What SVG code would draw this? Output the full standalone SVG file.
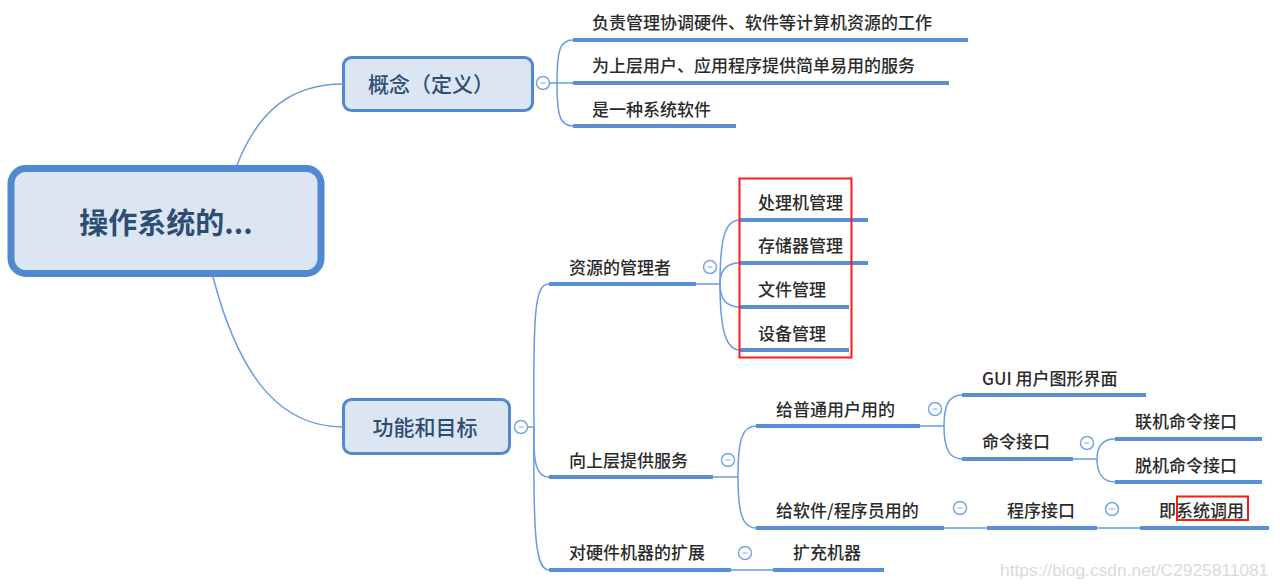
<svg xmlns="http://www.w3.org/2000/svg" width="1280" height="588" viewBox="0 0 1280 588">
<defs>
<style>
.box{fill:#dce6f2;stroke:#5089d0;}
.t{font-family:"Noto Sans CJK SC","Liberation Sans",sans-serif;fill:#2b2b2b;font-size:17px;font-weight:500;}
.bt{font-family:"Noto Sans CJK SC","Liberation Sans",sans-serif;fill:#2e4d73;font-weight:500;}
.rt{font-weight:bold;font-size:29px;}
.ul{stroke:#5a8fd6;stroke-width:4;fill:none;}
.cn{stroke:#6a9be0;stroke-width:1.5;fill:none;}
.red{fill:none;stroke:#ff1a1a;stroke-width:2;}
</style>
<g id="toggle">
<circle r="6.5" fill="#fff" stroke="#7aa6e0" stroke-width="1.5"/>
<line x1="-2.5" y1="0" x2="2.5" y2="0" stroke="#8fb3e6" stroke-width="1.2"/>
</g>
</defs>
<rect width="1280" height="588" fill="#fff"/>

<g id="connectors">
<path class="cn" d="M237,165 C258,112 290,84 343,84"/>
<path class="cn" d="M213,277 C240,380 282,427 343,427"/>
<path class="cn" d="M549,83 L573,83"/>
<path class="cn" d="M557,83 C557,50 560,40 573,40"/>
<path class="cn" d="M557,83 C557,116 560,126 573,126"/>
<path class="cn" d="M528,427 L534,427"/>
<path class="cn" d="M534,427 C533,310 535,284 549,284"/>
<path class="cn" d="M534,427 C533,462 536,477 549,477"/>
<path class="cn" d="M534,427 C533,540 536,570 549,570"/>
<path class="cn" d="M696,284 L720,284"/>
<path class="cn" d="M720,284 C720,235 726,220 740,220"/>
<path class="cn" d="M720,284 C720,270 726,263 740,263"/>
<path class="cn" d="M720,284 C720,298 726,307 740,307"/>
<path class="cn" d="M720,284 C720,330 726,350 740,350"/>
<path class="cn" d="M713,477 L738,477"/>
<path class="cn" d="M738,477 C738,440 742,426 756,426"/>
<path class="cn" d="M738,477 C738,512 742,528 756,528"/>
<path class="cn" d="M920,426 L944,426"/>
<path class="cn" d="M944,426 C944,405 949,395 962,395"/>
<path class="cn" d="M944,426 C944,448 949,459 962,459"/>
<path class="cn" d="M1073,459 L1097,459"/>
<path class="cn" d="M1097,459 C1097,446 1102,439 1115,439"/>
<path class="cn" d="M1097,459 C1097,472 1102,482 1115,482"/>
<path class="cn" d="M944,528 L987,528"/>
<path class="cn" d="M1097,528 L1140,528"/>
<path class="cn" d="M731,570 L773,570"/>
</g>

<g id="root">
<rect class="box" x="11" y="168.5" width="310" height="105" rx="15" stroke-width="7"/>
<text class="bt rt" x="166" y="234" text-anchor="middle">操作系统的...</text>
</g>

<g id="concept">
<rect class="box" x="343.5" y="57.5" width="189" height="53" rx="8" stroke-width="3"/>
<text class="bt" x="431" y="92" font-size="21" text-anchor="middle">概念（定义）</text>
<use href="#toggle" x="543" y="83"/>
</g>

<g id="function">
<rect class="box" x="343.5" y="399.5" width="166" height="54" rx="8" stroke-width="3"/>
<text class="bt" x="425" y="435" font-size="21" text-anchor="middle">功能和目标</text>
<use href="#toggle" x="521" y="427"/>
</g>

<g id="c1"><text class="t" x="592" y="29">负责管理协调硬件、软件等计算机资源的工作</text><line class="ul" x1="573" y1="40" x2="968" y2="40"/></g>
<g id="c2"><text class="t" x="592" y="72">为上层用户、应用程序提供简单易用的服务</text><line class="ul" x1="573" y1="83" x2="949" y2="83"/></g>
<g id="c3"><text class="t" x="592" y="116">是一种系统软件</text><line class="ul" x1="573" y1="126" x2="736" y2="126"/></g>

<g id="res"><text class="t" x="569" y="274">资源的管理者</text><line class="ul" x1="549" y1="284" x2="696" y2="284"/><use href="#toggle" x="710" y="267"/></g>
<g id="r1"><text class="t" x="758" y="209">处理机管理</text><line class="ul" x1="740" y1="220" x2="868" y2="220"/></g>
<g id="r2"><text class="t" x="758" y="252">存储器管理</text><line class="ul" x1="740" y1="263" x2="868" y2="263"/></g>
<g id="r3"><text class="t" x="758" y="296">文件管理</text><line class="ul" x1="740" y1="307" x2="849" y2="307"/></g>
<g id="r4"><text class="t" x="758" y="340">设备管理</text><line class="ul" x1="740" y1="350" x2="849" y2="350"/></g>
<rect id="redbox1" class="red" x="739.5" y="178.5" width="112" height="179"/>

<g id="svc"><text class="t" x="569" y="467">向上层提供服务</text><line class="ul" x1="549" y1="477" x2="713" y2="477"/><use href="#toggle" x="728" y="460"/></g>
<g id="normal"><text class="t" x="776" y="416">给普通用户用的</text><line class="ul" x1="756" y1="426" x2="920" y2="426"/><use href="#toggle" x="935" y="409"/></g>
<g id="gui"><text class="t" x="982" y="385">GUI 用户图形界面</text><line class="ul" x1="962" y1="395" x2="1146" y2="395"/></g>
<g id="cmd"><text class="t" x="982" y="448">命令接口</text><line class="ul" x1="962" y1="459" x2="1073" y2="459"/><use href="#toggle" x="1087" y="443"/></g>
<g id="online"><text class="t" x="1135" y="428">联机命令接口</text><line class="ul" x1="1115" y1="439" x2="1262" y2="439"/></g>
<g id="offline"><text class="t" x="1135" y="472">脱机命令接口</text><line class="ul" x1="1115" y1="482" x2="1262" y2="482"/></g>
<g id="prog"><text class="t" x="776" y="517">给软件/程序员用的</text><line class="ul" x1="756" y1="528" x2="944" y2="528"/><use href="#toggle" x="960" y="508"/></g>
<g id="api"><text class="t" x="1007" y="517">程序接口</text><line class="ul" x1="987" y1="528" x2="1097" y2="528"/><use href="#toggle" x="1112" y="509"/></g>
<g id="syscall"><text class="t" x="1159" y="517">即系统调用</text><line class="ul" x1="1140" y1="528" x2="1269" y2="528"/></g>
<rect id="redbox2" class="red" x="1177" y="496.5" width="71" height="23.5"/>

<g id="ext"><text class="t" x="569" y="559">对硬件机器的扩展</text><line class="ul" x1="549" y1="570" x2="731" y2="570"/><use href="#toggle" x="745" y="553"/></g>
<g id="ext1"><text class="t" x="793" y="559">扩充机器</text><line class="ul" x1="773" y1="570" x2="884" y2="570"/></g>

<text x="1000" y="576" font-family="Liberation Sans, Arial, sans-serif" font-size="17.4" fill="#dadada">https://blog.csdn.net/C2925811081</text>
</svg>
